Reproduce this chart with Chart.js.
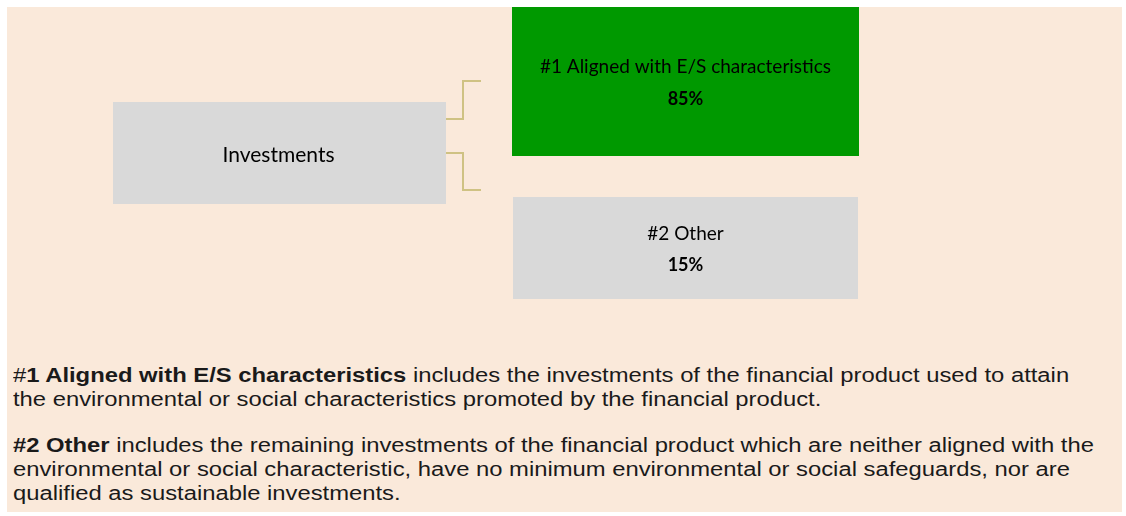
<!DOCTYPE html>
<html>
<head>
<meta charset="utf-8">
<script src="https://cdn.jsdelivr.net/npm/chart.js@4.4.1/dist/chart.umd.min.js"></script>
<style>
  html, body { margin: 0; padding: 0; background: #ffffff; }
  #wrap { position: relative; width: 1126px; height: 516px; overflow: hidden; }
  #panel { position: absolute; left: 7px; top: 7px; width: 1115px; height: 505px; background: #fae9da; }
  #chartBox { position: absolute; left: 0; top: 0; width: 1126px; height: 340px; }
  #notes {
    position: absolute; left: 13px; top: 363px;
    font-family: "Liberation Sans", Arial, sans-serif;
    font-size: 20px; line-height: 24px; color: #1a1a1a;
    white-space: nowrap;
    transform: scaleX(1.19); transform-origin: 0 0;
  }
  #notes p { margin: 0 0 22px 0; }
</style>
</head>
<body>
<div id="wrap">
  <div id="panel"></div>
  <div id="chartBox"><canvas id="tree" width="1126" height="340"></canvas></div>
  <div id="notes"></div>
</div>
<script>
// data
const rootLabel = 'Investments';
const branchLabels = ['#1 Aligned with E/S characteristics', '#2 Other'];
const branchShares = [85, 15];
const branchColors = ['#009900', '#d9d9d9'];

const noteHeads = ['1 Aligned with E/S characteristics', '#2 Other'];
const noteLines = [
  [' includes the investments of the financial product used to attain',
   'the environmental or social characteristics promoted by the financial product.'],
  [' includes the remaining investments of the financial product which are neither aligned with the',
   'environmental or social characteristic, have no minimum environmental or social safeguards, nor are',
   'qualified as sustainable investments.']
];

// build the notes below the chart
const notes = document.getElementById('notes');
noteHeads.forEach((head, i) => {
  const p = document.createElement('p');
  const prefix = i === 0 ? '#' : '';
  p.innerHTML = prefix + '<b>' + head + '</b>' + noteLines[i].join('<br>');
  notes.appendChild(p);
});

// box geometry (pixels in canvas)
const layout = {
  root: { x: 113, y: 102, w: 333, h: 102 },
  branches: [
    { x: 512, y: 7, w: 347, h: 149, labelY: 67, valueY: 99 },
    { x: 513, y: 197, w: 345, h: 102, labelY: 234, valueY: 265 }
  ],
  elbowX: 463,
  elbowEnd: 481,
  rootOut: [119, 153],
  branchIn: [81, 190]
};

const treePlugin = {
  id: 'treeBoxes',
  afterDraw(chart) {
    const ctx = chart.ctx;
    ctx.save();

    // root box
    const r = layout.root;
    ctx.fillStyle = '#d9d9d9';
    ctx.fillRect(r.x, r.y, r.w, r.h);
    ctx.fillStyle = '#000';
    ctx.textAlign = 'center';
    ctx.textBaseline = 'middle';
    ctx.font = '21px Lato, "Open Sans", sans-serif';
    ctx.fillText(rootLabel, r.x + r.w / 2 - 1, r.y + r.h / 2 + 2);

    // connectors
    ctx.strokeStyle = '#cfc283';
    ctx.lineWidth = 2;
    branchLabels.forEach((_, i) => {
      ctx.beginPath();
      ctx.moveTo(r.x + r.w, layout.rootOut[i]);
      ctx.lineTo(layout.elbowX, layout.rootOut[i]);
      ctx.lineTo(layout.elbowX, layout.branchIn[i]);
      ctx.lineTo(layout.elbowEnd, layout.branchIn[i]);
      ctx.stroke();
    });

    // branch boxes
    const data = chart.data.datasets[0].data;
    branchLabels.forEach((label, i) => {
      const b = layout.branches[i];
      ctx.fillStyle = branchColors[i];
      ctx.fillRect(b.x, b.y, b.w, b.h);
      ctx.fillStyle = '#000';
      const cx = b.x + b.w / 2;
      ctx.font = '19px Lato, "Open Sans", sans-serif';
      ctx.fillText(label, cx, b.labelY);
      ctx.font = 'bold 18px Lato, "Open Sans", sans-serif';
      ctx.fillText(data[i] + '%', cx, b.valueY);
    });

    ctx.restore();
  }
};

new Chart(document.getElementById('tree'), {
  type: 'bar',
  data: {
    labels: branchLabels,
    datasets: [{ data: branchShares, hidden: true }]
  },
  options: {
    responsive: false,
    animation: false,
    events: [],
    layout: { padding: 0 },
    scales: { x: { display: false }, y: { display: false } },
    plugins: { legend: { display: false }, tooltip: { enabled: false } }
  },
  plugins: [treePlugin]
});
</script>
</body>
</html>
